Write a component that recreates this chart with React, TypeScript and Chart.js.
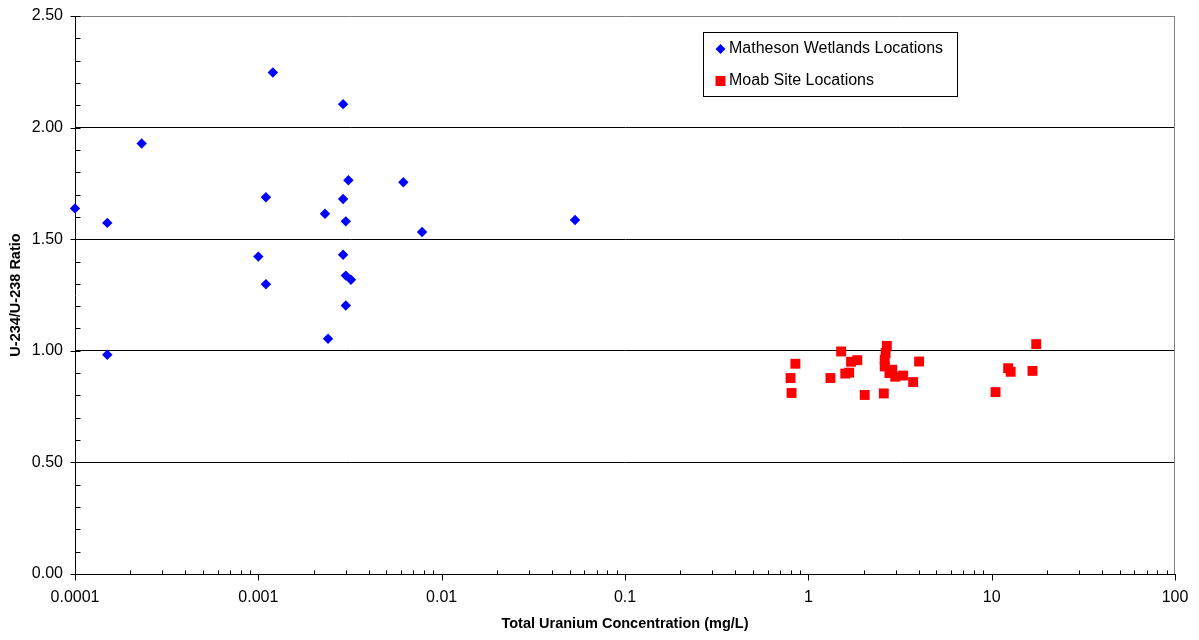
import React, { useEffect, useRef } from "react";
import { Chart, registerables } from "chart.js";

Chart.register(...registerables);

const mathesonLabel = "Matheson Wetlands Locations";
const moabLabel = "Moab Site Locations";

const mathesonX = [0.0001, 0.00015, 0.000231, 0.0012, 0.0029, 0.0031, 0.00618, 0.0011, 0.0029, 0.00231, 0.003, 0.00782, 0.001, 0.0029, 0.0011, 0.003, 0.0032, 0.003, 0.00015, 0.0024, 0.0534];
const mathesonY = [1.638, 1.573, 1.929, 2.247, 2.105, 1.764, 1.755, 1.688, 1.68, 1.614, 1.58, 1.532, 1.422, 1.43, 1.298, 1.337, 1.318, 1.203, 0.982, 1.054, 1.586];

const moabX = [0.85, 0.8, 0.81, 1.32, 1.51, 1.71, 1.85, 1.59, 1.67, 2.03, 2.68, 2.64, 2.61, 2.61, 2.87, 2.77, 2.98, 3.29, 3.73, 4.02, 2.58, 12.3, 12.7, 10.5, 16.7, 17.5];
const moabY = [0.942, 0.878, 0.811, 0.878, 0.997, 0.951, 0.958, 0.898, 0.902, 0.802, 1.022, 0.99, 0.96, 0.93, 0.915, 0.9, 0.884, 0.889, 0.86, 0.952, 0.809, 0.922, 0.906, 0.815, 0.91, 1.03];

const xTickValues = [0.0001, 0.001, 0.01, 0.1, 1, 10, 100];
const xTickLabels = ["0.0001", "0.001", "0.01", "0.1", "1", "10", "100"];
const yTickValues = [0, 0.5, 1, 1.5, 2, 2.5];
const yTickLabels = ["0.00", "0.50", "1.00", "1.50", "2.00", "2.50"];
const yMinorStep = 0.1;

const xTitle = "Total Uranium Concentration (mg/L)";
const yTitle = "U-234/U-238 Ratio";

const FONT = "'Liberation Sans', Arial, sans-serif";

const decorPlugin = {
  id: "decor",
  afterDraw(chart: any) {
    const ctx = chart.ctx;
    const xs = chart.scales.x;
    const ys = chart.scales.y;
    const area = chart.chartArea;
    const left = Math.round(area.left) + 0.5;
    const bottom = Math.round(area.bottom) + 0.5;
    ctx.save();

    // right border
    ctx.strokeStyle = "#808080";
    ctx.lineWidth = 1;
    ctx.beginPath();
    const right = Math.round(area.right) - 0.5;
    ctx.moveTo(right, area.top);
    ctx.lineTo(right, area.bottom);
    ctx.stroke();

    ctx.strokeStyle = "#000";
    ctx.lineWidth = 1;
    ctx.beginPath();
    // y minor ticks (inward)
    const nMinor = Math.round(2.5 / yMinorStep);
    for (let i = 0; i <= nMinor; i++) {
      const v = i * yMinorStep;
      const py = Math.round(ys.getPixelForValue(v)) + 0.5;
      ctx.moveTo(left, py);
      ctx.lineTo(left + 5, py);
    }
    // y major ticks (outward)
    yTickValues.forEach((v) => {
      const py = Math.round(ys.getPixelForValue(v)) + 0.5;
      ctx.moveTo(left - 5, py);
      ctx.lineTo(left, py);
    });
    // x minor ticks (inward) & major ticks (outward)
    for (let d = 0; d < xTickValues.length; d++) {
      const base = xTickValues[d];
      const px = Math.round(xs.getPixelForValue(base)) + 0.5;
      ctx.moveTo(px, bottom);
      ctx.lineTo(px, bottom + 6);
      if (d < xTickValues.length - 1) {
        for (let m = 2; m <= 9; m++) {
          const mx = Math.round(xs.getPixelForValue(base * m)) + 0.5;
          ctx.moveTo(mx, bottom);
          ctx.lineTo(mx, bottom - 4);
        }
      }
    }
    ctx.stroke();

    // tick labels
    ctx.fillStyle = "#000";
    ctx.font = `16px ${FONT}`;
    ctx.textAlign = "right";
    ctx.textBaseline = "middle";
    yTickValues.forEach((v, i) => {
      ctx.fillText(yTickLabels[i], 63, ys.getPixelForValue(v));
    });
    ctx.textAlign = "center";
    xTickValues.forEach((v, i) => {
      ctx.fillText(xTickLabels[i], xs.getPixelForValue(v), 598);
    });

    // axis titles
    ctx.font = `bold 14.5px ${FONT}`;
    ctx.fillText(xTitle, (area.left + area.right) / 2, 624);
    ctx.save();
    ctx.translate(16, (area.top + area.bottom) / 2);
    ctx.rotate(-Math.PI / 2);
    ctx.fillText(yTitle, 0, 0);
    ctx.restore();

    // legend
    const ds = chart.data.datasets;
    ctx.fillStyle = "#fff";
    ctx.fillRect(703.5, 32.5, 254, 64);
    ctx.strokeStyle = "#000";
    ctx.strokeRect(703.5, 32.5, 254, 64);
    // diamond
    ctx.fillStyle = ds[0].backgroundColor;
    ctx.beginPath();
    ctx.moveTo(720.5, 44);
    ctx.lineTo(725.5, 49);
    ctx.lineTo(720.5, 54);
    ctx.lineTo(715.5, 49);
    ctx.closePath();
    ctx.fill();
    // square
    ctx.fillStyle = ds[1].backgroundColor;
    ctx.fillRect(715.5, 76, 10, 10);
    ctx.fillStyle = "#000";
    ctx.font = `16px ${FONT}`;
    ctx.textAlign = "left";
    ctx.textBaseline = "middle";
    ctx.fillText(ds[0].label, 729, 49);
    ctx.fillText(ds[1].label, 729, 81);

    ctx.restore();
  },
};

export default function App() {
  const canvasRef = useRef<HTMLCanvasElement | null>(null);

  useEffect(() => {
    document.body.style.margin = "0";
    const canvas = canvasRef.current;
    if (!canvas) return;
    const chart = new Chart(canvas, {
      type: "scatter",
      data: {
        datasets: [
          {
            label: mathesonLabel,
            data: mathesonX.map((x, i) => ({ x, y: mathesonY[i] })),
            backgroundColor: "#0000FF",
            borderColor: "#0000FF",
            borderWidth: 0,
            pointStyle: "rectRot",
            pointRadius: 5.2,
            pointHoverRadius: 5.2,
            clip: false,
          },
          {
            label: moabLabel,
            data: moabX.map((x, i) => ({ x, y: moabY[i] })),
            backgroundColor: "#FF0000",
            borderColor: "#FF0000",
            borderWidth: 0,
            pointStyle: "rect",
            pointRadius: 7,
            pointHoverRadius: 7,
            clip: false,
          },
        ],
      },
      options: {
        animation: false,
        responsive: false,
        maintainAspectRatio: false,
        devicePixelRatio: 1,
        layout: { padding: { top: 16, right: 24, left: 0, bottom: 0 } },
        plugins: {
          legend: { display: false },
          tooltip: { enabled: false },
          title: { display: false },
        },
        scales: {
          x: {
            type: "logarithmic",
            min: 0.0001,
            max: 100,
            grid: { display: false, drawTicks: false },
            border: { display: true, color: "#000", width: 1 },
            ticks: { display: false },
            afterFit: (s: any) => {
              s.height = 66;
            },
          },
          y: {
            type: "linear",
            min: 0,
            max: 2.5,
            ticks: { display: false, stepSize: 0.5 },
            grid: {
              drawTicks: false,
              color: (c: any) => (c.tick && c.tick.value === 2.5 ? "#808080" : "#000"),
              lineWidth: 1,
            },
            border: { display: true, color: "#000", width: 1 },
            afterFit: (s: any) => {
              s.width = 75;
            },
          },
        },
      },
      plugins: [decorPlugin],
    });
    return () => chart.destroy();
  }, []);

  return (
    <div style={{ position: "fixed", left: 0, top: 0, width: 1199, height: 640, background: "#fff" }}>
      <canvas ref={canvasRef} width={1199} height={640} style={{ width: 1199, height: 640 }} />
    </div>
  );
}
